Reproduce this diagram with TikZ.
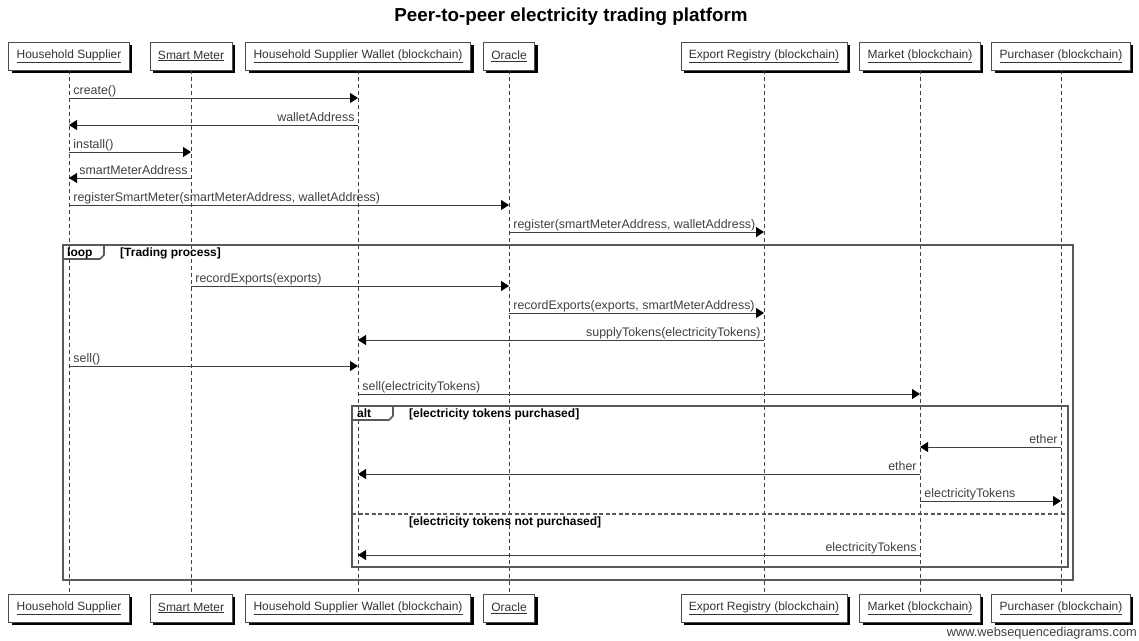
\documentclass[tikz,border=0pt]{standalone}
\usepackage{fontspec}
\setmainfont{Liberation Sans}
\usetikzlibrary{arrows.meta,shadows}
\begin{document}
\begin{tikzpicture}[x=1pt,y=-1pt,
  actor/.style={draw=black!70, fill=white, line width=0.8pt, minimum height=28pt,
    inner xsep=8pt, font=\fontsize{12}{14}\selectfont, text=black!80,
    drop shadow={shadow xshift=3pt, shadow yshift=-3pt, fill=black, opacity=1}},
  life/.style={draw=black!75, line width=0.8pt, dash pattern=on 4pt off 3pt},
  msg/.style={draw=black!75, line width=0.9pt, -{Triangle[length=8pt,width=10pt,fill=black,color=black]}},
  lblR/.style={pos=0, anchor=base west, xshift=4pt, yshift=4pt, inner sep=0pt,
    font=\fontsize{12.4}{14}\selectfont, text=black!75},
  lblL/.style={pos=0, anchor=base east, xshift=-3pt, yshift=4pt, inner sep=0pt,
    font=\fontsize{12.4}{14}\selectfont, text=black!75},
  frame/.style={draw=black!65, line width=2.4pt},
  tabline/.style={draw=black!65, line width=1.6pt, line join=round},
  guard/.style={anchor=base west, inner sep=0pt, font=\bfseries\fontsize{12}{14}\selectfont}]
\useasboundingbox (0,0) rectangle (1139,640);

\node[font=\bfseries\fontsize{18.8}{22}\selectfont] (title) at (571,17) {Peer-to-peer electricity trading platform};

% actors top
\node[actor] (hsT)  at (69,56)   {\underline{Household Supplier}};
\node[actor] (smT)  at (191,56)  {\underline{Smart Meter}};
\node[actor] (hswT) at (358,56)  {\underline{Household Supplier Wallet (blockchain)}};
\node[actor] (orT)  at (509,56)  {\underline{Oracle}};
\node[actor] (erT)  at (764,56)  {\underline{Export Registry (blockchain)}};
\node[actor] (mkT)  at (920,56)  {\underline{Market (blockchain)}};
\node[actor] (puT)  at (1061,56) {\underline{Purchaser (blockchain)}};
% actors bottom
\node[actor] (hsB)  at (69,608)   {\underline{Household Supplier}};
\node[actor] (smB)  at (191,608)  {\underline{Smart Meter}};
\node[actor] (hswB) at (358,608)  {\underline{Household Supplier Wallet (blockchain)}};
\node[actor] (orB)  at (509,608)  {\underline{Oracle}};
\node[actor] (erB)  at (764,608)  {\underline{Export Registry (blockchain)}};
\node[actor] (mkB)  at (920,608)  {\underline{Market (blockchain)}};
\node[actor] (puB)  at (1061,608) {\underline{Purchaser (blockchain)}};

% lifelines
\foreach \a in {hs,sm,hsw,or,er,mk,pu}
  \draw[life] (\a T.south) -- (\a B.north);

% frames
\draw[frame] (63,245) rectangle (1073,580);
\draw[tabline] (63,259) -- (100,259) -- (104,255) -- (104,245);
\node[guard] (loopl) at (67,256) {loop};
\node[guard] (loopg) at (120,256) {[Trading process]};

\draw[frame] (352,406) rectangle (1068,567);
\draw[tabline] (352,420) -- (389,420) -- (393,416) -- (393,406);
\node[guard] (altl) at (357,417) {alt};
\node[guard] (altg1) at (409,417) {[electricity tokens purchased]};
\draw[frame, line width=2pt, dash pattern=on 4pt off 2.5pt] (352,514) -- (1068,514);
\node[guard] (altg2) at (409,525) {[electricity tokens not purchased]};

% messages
\draw[msg] (hsT |- 0,98)  -- (hswT |- 0,98)  node[lblR] {create()};
\draw[msg] (hswT |- 0,125) -- (hsT |- 0,125) node[lblL] {walletAddress};
\draw[msg] (hsT |- 0,152) -- (smT |- 0,152)  node[lblR] {install()};
\draw[msg] (smT |- 0,178) -- (hsT |- 0,178)  node[lblL] {smartMeterAddress};
\draw[msg] (hsT |- 0,205) -- (orT |- 0,205)  node[lblR] {registerSmartMeter(smartMeterAddress, walletAddress)};
\draw[msg] (orT |- 0,232) -- (erT |- 0,232)  node[lblR] {register(smartMeterAddress, walletAddress)};
\draw[msg] (smT |- 0,286) -- (orT |- 0,286)  node[lblR] {recordExports(exports)};
\draw[msg] (orT |- 0,313) -- (erT |- 0,313)  node[lblR] {recordExports(exports, smartMeterAddress)};
\draw[msg] (erT |- 0,340) -- (hswT |- 0,340) node[lblL] {supplyTokens(electricityTokens)};
\draw[msg] (hsT |- 0,366) -- (hswT |- 0,366) node[lblR] {sell()};
\draw[msg] (hswT |- 0,394) -- (mkT |- 0,394) node[lblR] {sell(electricityTokens)};
\draw[msg] (puT |- 0,447) -- (mkT |- 0,447)  node[lblL] {ether};
\draw[msg] (mkT |- 0,474) -- (hswT |- 0,474) node[lblL] {ether};
\draw[msg] (mkT |- 0,501) -- (puT |- 0,501)  node[lblR] {electricityTokens};
\draw[msg] (mkT |- 0,555) -- (hswT |- 0,555) node[lblL] {electricityTokens};

\node[anchor=base east, inner sep=0pt, font=\fontsize{12.8}{14}\selectfont, text=black!75] (wm) at (1137,636) {www.websequencediagrams.com};
\end{tikzpicture}
\end{document}
